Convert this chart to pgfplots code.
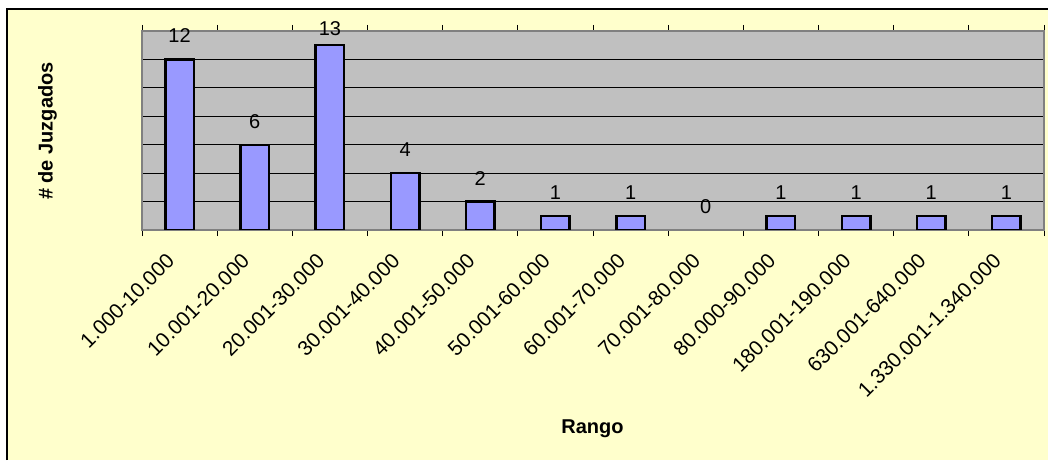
\documentclass[border=0pt]{standalone}
\usepackage{fontspec}
\setmainfont{Liberation Sans}
\usepackage{pgfplots}
\pgfplotsset{compat=1.18}
\definecolor{chartbg}{HTML}{FFFFCC}
\definecolor{plotbg}{HTML}{C0C0C0}
\definecolor{barfill}{HTML}{9999FF}
\definecolor{framegray}{HTML}{808080}
\newcommand{\chartfont}{\fontsize{20}{24}\selectfont}
\newcommand{\tickfont}{\fontsize{20.8}{24}\selectfont}
\begin{document}
\begin{tikzpicture}[x=1pt,y=1pt]
\useasboundingbox (0,0) rectangle (1048,460);
\fill[white] (0,0) rectangle (1048,460);
\fill[chartbg] (7,0) rectangle (1048,451);
\draw[black, line width=1.5pt] (7,0) -- (7,451) -- (1048,451);
\begin{axis}[
  at={(142pt,230pt)}, anchor=south west,
  scale only axis, width=902pt, height=199pt,
  xmin=-0.5, xmax=11.5, ymin=0, ymax=14,
  enlargelimits=false,
  ybar, bar width=28.5pt, bar shift=0pt,
  /pgf/number format/assume math mode=true,
  axis background/.style={fill=plotbg},
  axis line style={draw=framegray, line width=2pt},
  ytick={2,4,...,12}, yticklabels={},
  ymajorgrids, major grid style={black, line width=0.9pt},
  y tick style={draw=none},
  xtick={0,...,11},
  xticklabels={1.000-10.000,10.001-20.000,20.001-30.000,30.001-40.000,40.001-50.000,50.001-60.000,60.001-70.000,70.001-80.000,80.000-90.000,180.001-190.000,630.001-640.000,1.330.001-1.340.000},
  major x tick style={draw=none},
  minor xtick={-0.5,0.5,...,11.5},
  minor tick length=6pt, xtick align=outside,
  minor x tick style={black, line width=0.8pt},
  xticklabel style={font=\tickfont, inner sep=0pt, xshift=-9pt, yshift=-23pt, rotate=45, anchor=east},
  nodes near coords,
  every node near coord/.append style={font=\chartfont, text=black, fill=none, draw=none, anchor=base, inner sep=0pt, yshift=16.5pt},
]
\addplot[fill=barfill, draw=black, line width=2.4pt, bar shift=0pt] coordinates {
  (0,12) (1,6) (3,4) (4,2) (5,1) (6,1) (8,1) (9,1) (10,1) (11,1)
};
% tallest bar: its label sits closer, as in the original
\addplot[fill=barfill, draw=black, line width=2.4pt, bar shift=0pt,
  every node near coord/.append style={yshift=-6.5pt}] coordinates {(2,13)};
% the empty range: label only, no bar outline
\addplot[fill=none, draw=none, bar shift=0pt] coordinates {(7,0)};
\end{axis}
\node[rotate=90, anchor=base, font=\bfseries\chartfont] at (52.5,329) {\# de Juzgados};
\node[anchor=base, font=\bfseries\chartfont] at (592.5,27) {Rango};
\end{tikzpicture}
\end{document}
